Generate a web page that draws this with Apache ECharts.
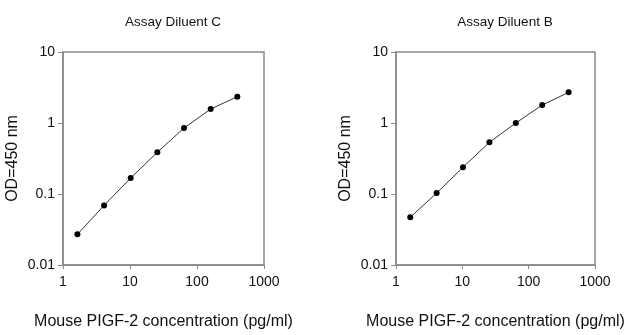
<!DOCTYPE html>
<html><head><meta charset="utf-8">
<script src="https://cdn.jsdelivr.net/npm/echarts@6/dist/echarts.min.js"></script>
<style>html,body{margin:0;padding:0;background:#fff}#c{width:640px;height:335px}</style>
</head><body><div id="c"></div>
<script>
const concentrations = [1.64, 4.1, 10.24, 25.6, 64, 160, 400];
const odDiluentC = [0.027, 0.069, 0.168, 0.387, 0.85, 1.57, 2.35];
const odDiluentB = [0.047, 0.103, 0.238, 0.535, 1.0, 1.79, 2.7];
const panelTitles = ['Assay Diluent C', 'Assay Diluent B'];
const xAxisName = 'Mouse PIGF-2 concentration (pg/ml)';
const yAxisName = 'OD=450 nm';

const FONT = '"Liberation Sans", Arial, sans-serif';
const axisCol = '#8a8a8a';
const chart = echarts.init(document.getElementById('c'), null, {renderer: 'canvas'});
const grids = [
  {left: 63, top: 52, width: 201, height: 213},
  {left: 396, top: 52, width: 199, height: 213}
];
const fmt = v => String(+(+v).toPrecision(3));
function xAx(i) {
  return {
    type: 'log', logBase: 10, min: 1, max: 1000, gridIndex: i,
    name: xAxisName, nameLocation: 'middle', nameGap: 49,
    nameTextStyle: {fontFamily: FONT, fontSize: 16, color: '#111'},
    axisLine: {show: true, lineStyle: {color: axisCol, width: 1.5}},
    axisTick: {show: true, length: 4, lineStyle: {color: axisCol}},
    axisLabel: {fontFamily: FONT, fontSize: 14, color: '#111', margin: 10, formatter: fmt},
    splitLine: {show: false}, minorTick: {show: false}
  };
}
function yAx(i) {
  return {
    type: 'log', logBase: 10, min: 0.01, max: 10, gridIndex: i,
    name: yAxisName, nameLocation: 'middle', nameGap: 42,
    nameTextStyle: {fontFamily: FONT, fontSize: 16, color: '#111'},
    axisLine: {show: true, lineStyle: {color: axisCol, width: 1.5}},
    axisTick: {show: true, length: 5, lineStyle: {color: axisCol}},
    axisLabel: {fontFamily: FONT, fontSize: 14, color: '#111', margin: 8, formatter: fmt},
    splitLine: {show: false}, minorTick: {show: false}
  };
}
function ser(i, vals) {
  return {
    type: 'line', xAxisIndex: i, yAxisIndex: i,
    data: concentrations.map((c, k) => [c, vals[k]]),
    symbol: 'circle', symbolSize: 6,
    itemStyle: {color: '#000'},
    lineStyle: {color: '#333', width: 1},
    animation: false
  };
}
chart.setOption({
  animation: false,
  title: [
    {text: panelTitles[0], left: 168, top: 10, textAlign: 'center',
     textStyle: {fontFamily: FONT, fontSize: 13.5, fontWeight: 'normal', color: '#111'}},
    {text: panelTitles[1], left: 500, top: 10, textAlign: 'center',
     textStyle: {fontFamily: FONT, fontSize: 13.5, fontWeight: 'normal', color: '#111'}}
  ],
  grid: grids.map(g => Object.assign({show: true, borderColor: axisCol, borderWidth: 1.5, backgroundColor: 'transparent'}, g)),
  xAxis: [xAx(0), xAx(1)],
  yAxis: [yAx(0), yAx(1)],
  series: [ser(0, odDiluentC), ser(1, odDiluentB)]
});
</script></body></html>
